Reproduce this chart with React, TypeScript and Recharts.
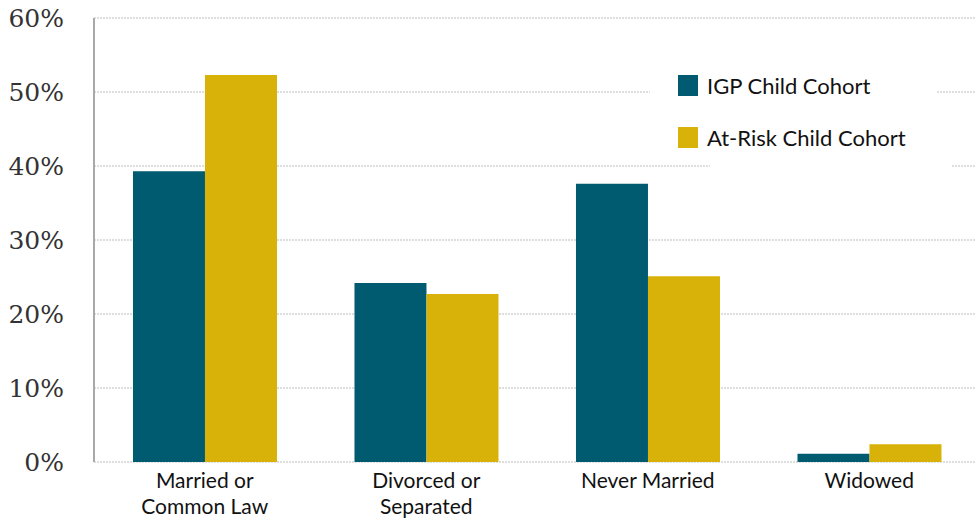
import React from 'react';
import { BarChart, Bar, XAxis, YAxis, CartesianGrid } from 'recharts';

const categories = ['Married or\nCommon Law', 'Divorced or\nSeparated', 'Never Married', 'Widowed'];
const igpValues = [39.3, 24.2, 37.6, 1.1];
const atRiskValues = [52.3, 22.7, 25.1, 2.4];
const yTicks = [0, 10, 20, 30, 40, 50, 60];

const IGP_COLOR = '#005b70';
const RISK_COLOR = '#d8b208';

const data = categories.map((name, i) => ({
  name,
  igp: igpValues[i],
  risk: atRiskValues[i],
}));

const legendItems = [
  { label: 'IGP Child Cohort', color: IGP_COLOR },
  { label: 'At-Risk Child Cohort', color: RISK_COLOR },
];

// two-line category labels
const CategoryTick = (props: any) => {
  const { x, y, payload } = props;
  const lines = String(payload.value).split('\n');
  return (
    <text x={x} y={y} textAnchor="middle" fill="#111" fontFamily="Lato, 'Open Sans', sans-serif" fontSize={21}>
      {lines.map((line, i) => (
        <tspan key={i} x={x} dy={i === 0 ? 18 : 26}>
          {line}
        </tspan>
      ))}
    </text>
  );
};

export default function App() {
  return (
    <div style={{ position: 'absolute', left: 0, top: 0, width: 976, height: 523, overflow: 'hidden', background: '#fff' }}>
      <BarChart
        width={980}
        height={523}
        data={data}
        margin={{ top: 18, right: 0, left: 0, bottom: 0 }}
        barCategoryGap="17.6%"
        barGap={0}
      >
        <CartesianGrid vertical={false} stroke="#bdbdbd" strokeDasharray="2 1" />
        <XAxis
          dataKey="name"
          axisLine={false}
          tickLine={false}
          interval={0}
          height={61}
          tick={<CategoryTick />}
        />
        <YAxis
          width={94}
          domain={[0, 60]}
          ticks={yTicks}
          tickFormatter={(v) => `${v}%`}
          axisLine={{ stroke: '#a9a9a9', strokeWidth: 2 }}
          tickLine={false}
          tickMargin={24}
          tick={{ fill: '#333', fontSize: 25, fontFamily: "'DejaVu Serif', serif" }}
        />
        <Bar dataKey="igp" name="IGP Child Cohort" fill={IGP_COLOR} isAnimationActive={false} />
        <Bar dataKey="risk" name="At-Risk Child Cohort" fill={RISK_COLOR} isAnimationActive={false} />
      </BarChart>
      {/* legend boxes sit over the gridlines, like in the original */}
      <div style={{ position: 'absolute', left: 650, top: 60, width: 287, height: 52, background: '#fff' }} />
      <div style={{ position: 'absolute', left: 710, top: 112, width: 242, height: 58, background: '#fff' }} />
      <div
        style={{
          position: 'absolute',
          left: 678,
          top: 59,
          fontFamily: "Lato, 'Open Sans', sans-serif",
          fontSize: 22,
          color: '#111',
        }}
      >
        {legendItems.map((item, i) => (
          <div key={i} style={{ display: 'flex', alignItems: 'center', height: 52 }}>
            <span style={{ width: 20, height: 21, background: item.color, marginRight: 9, display: 'inline-block' }} />
            <span>{item.label}</span>
          </div>
        ))}
      </div>
    </div>
  );
}
